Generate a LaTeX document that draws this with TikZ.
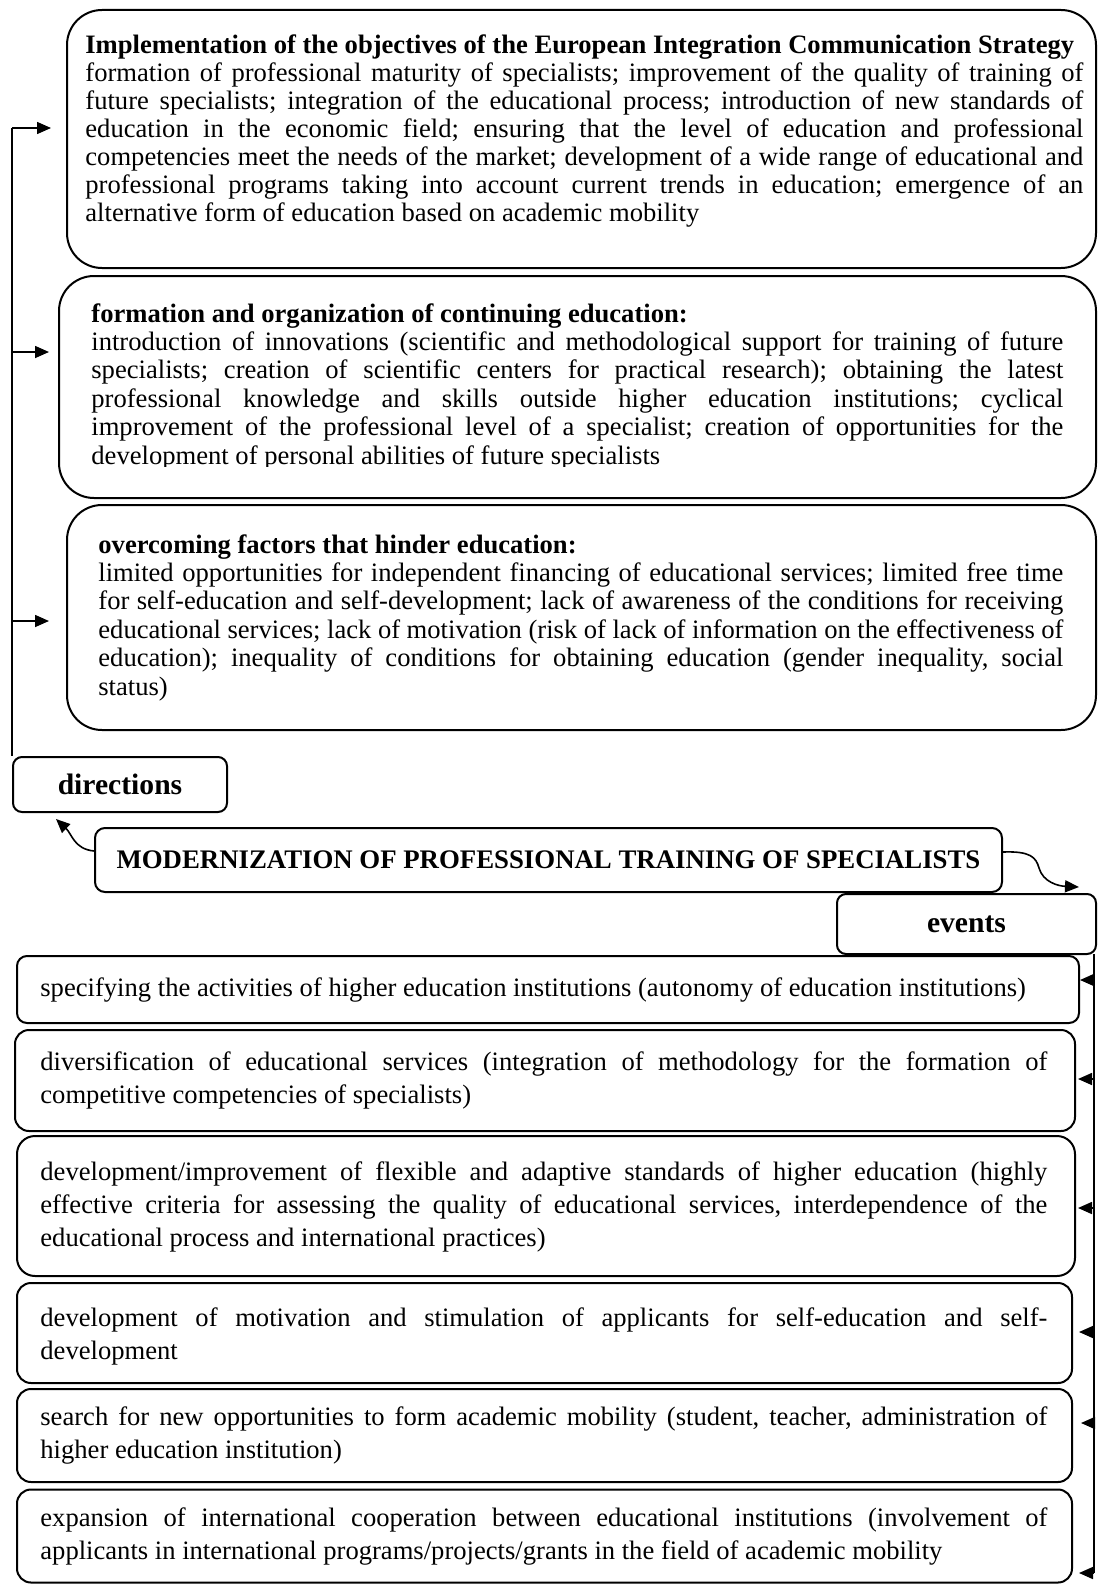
\documentclass[tikz,border=0pt]{standalone}
\usepackage{fontspec}
\setmainfont{Liberation Serif}
\usetikzlibrary{arrows.meta}
\def\JW{499pt}
\newcommand\SP{\frenchspacing\spaceskip=0pt\xspaceskip=0pt\relax}
\newcommand\JL[1]{\par\hbox to \JW{\SP#1}}
\newcommand\NL[1]{\par\hbox{\SP#1}}
\newcommand\FJ[1]{\hbox to \JW{\SP#1}}
\newcommand\FN[1]{\hbox{\SP#1}}
\tikzset{
  bigbox/.style={draw, line width=1pt, rounded corners=17.5pt, inner sep=0pt},
  evbox/.style={draw, line width=1pt, rounded corners=7pt, inner sep=0pt},
  lblbox/.style={draw, line width=1pt, rounded corners=4.5pt, inner sep=0pt, font=\bfseries\fontsize{14.8pt}{16pt}\selectfont},
  txt/.style={inner sep=0pt, anchor=base west, align=left},
  conn/.style={line width=0.8pt},
  arr/.style={line width=0.8pt, -{Triangle[length=7pt,width=6pt]}},
}
\begin{document}
\begin{tikzpicture}[x=0.5pt,y=-0.5pt]
\useasboundingbox (0,0) rectangle (1098,1584);
% top boxes
\node[bigbox, minimum width=514.5pt, minimum height=129pt] (b1) at (581.5,139) {};
\node[bigbox, minimum width=518.5pt, minimum height=111pt] (b2) at (577.5,387) {};
\node[bigbox, minimum width=514.5pt, minimum height=112.5pt] (b3) at (581.5,617.5) {};
\node[txt, text width=499pt, font=\fontsize{13.3pt}{14pt}\selectfont] (t1) at (85,54) {\def\JW{499pt}%
\FN{\bfseries Implementation of the objectives of the European Integration Communication Strategy}%
\JL{formation of professional maturity of specialists; improvement of the quality of training of}%
\JL{future specialists; integration of the educational process; introduction of new standards of}%
\JL{education in the economic field; ensuring that the level of education and professional}%
\JL{competencies meet the needs of the market; development of a wide range of educational and}%
\JL{professional programs taking into account current trends in education; emergence of an}%
\NL{alternative form of education based on academic mobility}\par};
\begin{scope}
\clip (0,0) rectangle (1098,466);
\node[txt, text width=486pt, font=\fontsize{13.3pt}{14.5pt}\selectfont] (t2) at (91,322) {\def\JW{486pt}%
\FN{\bfseries formation and organization of continuing education:}%
\fontsize{13.3pt}{14.2pt}\selectfont
\JL{introduction of innovations (scientific and methodological support for training of future}%
\JL{specialists; creation of scientific centers for practical research); obtaining the latest}%
\JL{professional knowledge and skills outside higher education institutions; cyclical}%
\JL{improvement of the professional level of a specialist; creation of opportunities for the}%
\NL{development of personal abilities of future specialists}\par};
\end{scope}
\node[txt, text width=482.5pt, font=\fontsize{13.3pt}{14.2pt}\selectfont] (t3) at (98,553) {\def\JW{482.5pt}%
\FN{\bfseries overcoming factors that hinder education:}%
\JL{limited opportunities for independent financing of educational services; limited free time}%
\JL{for self-education and self-development; lack of awareness of the conditions for receiving}%
\JL{educational services; lack of motivation (risk of lack of information on the effectiveness of}%
\JL{education); inequality of conditions for obtaining education (gender inequality, social}%
\NL{status)}\par};
% left connector
\coordinate (lt) at (12,128);
\coordinate (l2) at (12,352);
\coordinate (l3) at (12,621);
\coordinate (lb) at (12,756);
\draw[conn] (lt) -- (lb);
\draw[arr, shorten >=7.5pt] (lt) -- (lt -| b1.west);
\draw[arr, shorten >=4.5pt] (l2) -- (l2 -| b2.west);
\draw[arr, shorten >=8.5pt] (l3) -- (l3 -| b3.west);
% labels
\node[lblbox, minimum width=107pt, minimum height=27.5pt] (dir) at (120,784.5) {directions};
\node[draw, line width=1pt, rounded corners=5pt, inner sep=0pt, minimum width=453.5pt, minimum height=32pt,
      font=\bfseries\fontsize{13.4pt}{15pt}\selectfont] (mod) at (548.5,860) {\SP MODERNIZATION OF PROFESSIONAL TRAINING OF SPECIALISTS};
\node[lblbox, minimum width=129.5pt, minimum height=30pt] (ev) at (966.5,924) {events};
\draw[arr] ([yshift=4.5pt]mod.west) .. controls (74,849) and (72,834) .. ([xshift=-32pt,yshift=-3pt]dir.south);
\draw[arr] ([yshift=4pt]mod.east) .. controls (1030,851) and (1036,857) .. (1039,868) .. controls (1043,882) and (1058,886) .. ([xshift=-9pt,yshift=3pt]ev.north east);
% event boxes
\node[evbox, rounded corners=5pt, minimum width=531pt, minimum height=33.5pt] (e1) at (548,989.5) {};
\node[evbox, minimum width=530pt, minimum height=50.5pt] (e2) at (545,1080.5) {};
\node[evbox, rounded corners=9pt, minimum width=529pt, minimum height=70pt] (e3) at (546,1206) {};
\node[evbox, minimum width=527.5pt, minimum height=50pt] (e4) at (544.5,1333) {};
\node[evbox, minimum width=527.5pt, minimum height=46.5pt] (e5) at (544.5,1435.5) {};
\node[evbox, minimum width=527.5pt, minimum height=46.5pt] (e6) at (544.5,1536) {};
\tikzset{evtxt/.style={txt, text width=503.5pt, font=\fontsize{13.3pt}{16.5pt}\selectfont}}
\node[evtxt] (x1) at (40,996) {\def\JW{503.5pt}%
\FN{specifying the activities of higher education institutions (autonomy of education institutions)}\par};
\node[evtxt] (x2) at (40,1070) {\def\JW{503.5pt}%
\FJ{diversification of educational services (integration of methodology for the formation of}%
\NL{competitive competencies of specialists)}\par};
\node[evtxt] (x3) at (40,1180) {\def\JW{503.5pt}%
\FJ{development/improvement of flexible and adaptive standards of higher education (highly}%
\JL{effective criteria for assessing the quality of educational services, interdependence of the}%
\NL{educational process and international practices)}\par};
\node[evtxt] (x4) at (40,1326) {\def\JW{503.5pt}%
\FJ{development of motivation and stimulation of applicants for self-education and self-}%
\NL{development}\par};
\node[evtxt] (x5) at (40,1425) {\def\JW{503.5pt}%
\FJ{search for new opportunities to form academic mobility (student, teacher, administration of}%
\NL{higher education institution)}\par};
\node[evtxt] (x6) at (40,1526) {\def\JW{503.5pt}%
\FJ{expansion of international cooperation between educational institutions (involvement of}%
\NL{applicants in international programs/projects/grants in the field of academic mobility}\par};
% right connector
\coordinate (r0) at (1094,954);
\coordinate (r1) at (1094,980);
\coordinate (r2) at (1094,1079);
\coordinate (r3) at (1094,1208);
\coordinate (r4) at (1094,1332);
\coordinate (r5) at (1094,1423);
\coordinate (r6) at (1094,1573);
\draw[conn] (r0) -- (r6);
\draw[arr] (r1) -- (r1 -| e1.east);
\draw[arr, shorten >=1pt] (r2) -- (r2 -| e2.east);
\draw[arr, shorten >=1pt] (r3) -- (r3 -| e3.east);
\draw[arr, shorten >=3pt] (r4) -- (r4 -| e4.east);
\draw[arr, shorten >=4pt] (r5) -- (r5 -| e5.east);
\draw[arr, shorten >=3pt] (r6) -- (r6 -| e6.east);
\end{tikzpicture}
\end{document}
